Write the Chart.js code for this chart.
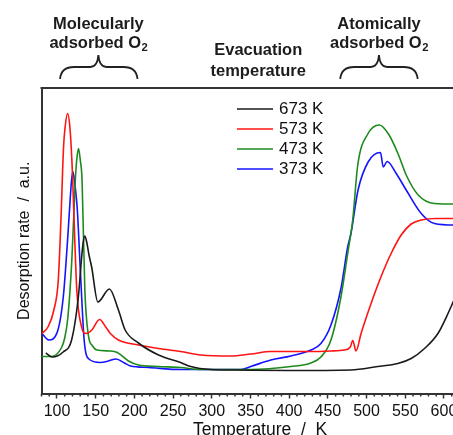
<!DOCTYPE html>
<html><head><meta charset="utf-8">
<script src="https://cdn.jsdelivr.net/npm/chart.js@4.4.0/dist/chart.umd.min.js"></script>
<style>
html,body{margin:0;padding:0;overflow:hidden;background:#fff;width:453px;height:435px}
#wrap{position:absolute;left:0;top:0;width:481px;height:448px}
</style>
</head><body><div id="wrap"><canvas id="c" width="481" height="448"></canvas></div>
<script>
// ---- data (temperature in K, desorption rate in a.u.) ----
const seriesLabels = ['673 K', '573 K', '473 K', '373 K'];
const seriesColors = ['#1a1a1a', '#ff1414', '#1e8a1e', '#1414ff'];

const temp673 = [85.5, 94, 108, 118.9, 127.6, 131.9, 133.8, 136, 138.5, 141.5, 144.8, 152.8, 167.7, 179.4, 188.1, 205.3, 231.2, 259.7, 272.7, 298.6, 330, 400, 480, 514.5, 540.4, 557.6, 574.9, 592.2, 605.2, 613.7, 620];
const rate673 = [40.5, 36.5, 41.5, 53.5, 96.5, 136.5, 151, 157.5, 151, 138, 126.5, 91.5, 104.5, 83.5, 63.5, 50.5, 38.5, 31, 27, 24, 23.5, 23, 23.5, 27, 30, 35, 45, 60, 80, 95, 108];

const temp573 = [80, 88.7, 96, 101.7, 105, 108.5, 110.6, 113.7, 116.8, 119.4, 125.6, 131.5, 137.6, 145, 155, 163, 169, 179.4, 205.3, 231.2, 259.7, 285.6, 324.5, 350.4, 376.3, 428.1, 454, 471.2, 479, 482.1, 486.4, 492.9, 505.8, 518.8, 531.7, 544.7, 557.6, 570.6, 590, 613.3, 620];
const rate573 = [59.5, 67, 83.5, 113.5, 171.5, 246.5, 267, 280, 265, 230.5, 103.5, 67.5, 60, 63.5, 74, 66.5, 60, 53.5, 48.5, 45, 42, 38.5, 37.5, 39.5, 42, 42, 42.5, 43.5, 46.5, 53, 42.5, 60, 90, 117, 140, 158.5, 169.5, 173.5, 175, 175, 175];

const temp473 = [80, 92.6, 105.6, 110, 114, 119.2, 123.7, 125.7, 127.8, 130, 132.4, 136, 140.5, 146, 151.6, 169, 178, 192.4, 205.3, 231.2, 259.7, 285.6, 350.4, 402.2, 428.1, 441, 454, 467, 475.6, 482.1, 488.6, 501.6, 516.6, 529.1, 540.8, 551.2, 566.7, 587.8, 613.3, 620];
const rate473 = [37, 37, 45.5, 55.5, 75.5, 133.5, 213.5, 235, 245, 234, 213.5, 103.5, 58.5, 47.5, 43.5, 42.5, 41, 32.5, 28.5, 27, 26, 24, 24, 27, 30.5, 36.5, 53.5, 97, 140, 173.5, 228.5, 259.5, 268.5, 258.5, 239.5, 218.5, 198.5, 190, 189.5, 190];

const temp373 = [80, 89.4, 100.4, 108.2, 113.7, 117, 118.8, 120.5, 122.3, 124.5, 126.3, 130.8, 135.1, 141.2, 156, 166.5, 176.2, 187.2, 195, 218.3, 259.7, 337.4, 350.4, 376.3, 402.2, 428.1, 441, 454, 467, 475.6, 479.9, 489, 502, 518, 521.5, 526.6, 538.3, 551.2, 570.6, 587.8, 613.3, 620];
const rate373 = [60.5, 53.5, 61.5, 97, 153.5, 193.5, 213, 222, 214, 200, 183.5, 113.5, 53.5, 34.5, 31, 32.5, 34.5, 30.5, 27.5, 26, 24, 24, 27, 33.5, 37.5, 43.5, 50, 68.5, 105.5, 146.5, 160.5, 203.5, 231.5, 241, 226.5, 232, 220, 203.5, 180, 170, 168.5, 168.5];

const xMajorTicks = [100, 150, 200, 250, 300, 350, 400, 450, 500, 550, 600];
const xTitle = 'Temperature  /  K';
const yTitle = 'Desorption rate  /  a.u.';

const FONT = "'Liberation Sans', Arial, Helvetica, sans-serif";

const temps = [temp673, temp573, temp473, temp373];
const rates = [rate673, rate573, rate473, rate373];

const datasets = seriesLabels.map((lab, i) => ({
  label: lab,
  data: temps[i].map((t, j) => ({ x: t, y: rates[i][j] })),
  borderColor: seriesColors[i],
  borderWidth: 1.6,
  pointRadius: 0,
  fill: false,
  cubicInterpolationMode: 'monotone'
}));

const minorTicks = [];
for (let v = 80; v <= 640; v += 10) if (!xMajorTicks.includes(v)) minorTicks.push(v);

const framePlugin = {
  id: 'frame',
  afterDraw(chart) {
    const { ctx, chartArea: { left, top, right, bottom }, scales: { x } } = chart;
    ctx.save();
    ctx.strokeStyle = '#333';
    ctx.lineWidth = 2;
    ctx.beginPath();
    ctx.moveTo(left - 1, top);
    ctx.lineTo(right, top);
    ctx.lineTo(right, bottom);
    ctx.stroke();
    ctx.lineWidth = 1.5;
    ctx.beginPath();
    for (const v of minorTicks) {
      const px = x.getPixelForValue(v);
      ctx.moveTo(px, bottom);
      ctx.lineTo(px, bottom + 3);
    }
    ctx.stroke();
    ctx.restore();
  }
};

const legendPlugin = {
  id: 'legendInside',
  afterDraw(chart) {
    const { ctx } = chart;
    ctx.save();
    ctx.font = '17px ' + FONT;
    ctx.textBaseline = 'middle';
    ctx.textAlign = 'left';
    chart.data.datasets.forEach((ds, i) => {
      const y = 109 + i * 20;
      ctx.strokeStyle = ds.borderColor;
      ctx.lineWidth = 1.6;
      ctx.beginPath();
      ctx.moveTo(237, y);
      ctx.lineTo(273, y);
      ctx.stroke();
      ctx.fillStyle = '#111';
      ctx.fillText(ds.label, 279, y + 0.5);
    });
    ctx.restore();
  }
};

function drawBrace(ctx, x1, x2, xc, yTip, yMid, yEnd) {
  ctx.beginPath();
  ctx.moveTo(x1, yEnd);
  ctx.quadraticCurveTo(x1 + 1, yMid, x1 + 14, yMid);
  ctx.lineTo(xc - 8, yMid);
  ctx.quadraticCurveTo(xc - 1, yMid, xc, yTip);
  ctx.moveTo(x2, yEnd);
  ctx.quadraticCurveTo(x2 - 1, yMid, x2 - 14, yMid);
  ctx.lineTo(xc + 8, yMid);
  ctx.quadraticCurveTo(xc + 1, yMid, xc, yTip);
  ctx.stroke();
}

function drawSubText(ctx, main, sub, cx, y, size) {
  ctx.font = 'bold ' + size + 'px ' + FONT;
  const w1 = ctx.measureText(main).width;
  ctx.font = 'bold ' + (size * 0.68) + 'px ' + FONT;
  const w2 = ctx.measureText(sub).width;
  const x0 = cx - (w1 + w2) / 2;
  ctx.textAlign = 'left';
  ctx.font = 'bold ' + size + 'px ' + FONT;
  ctx.fillText(main, x0, y);
  ctx.font = 'bold ' + (size * 0.68) + 'px ' + FONT;
  ctx.fillText(sub, x0 + w1 + 0.5, y + 4.5);
}

const annotPlugin = {
  id: 'annot',
  afterDraw(chart) {
    const { ctx, scales: { x } } = chart;
    const S = 16.5;
    ctx.save();
    ctx.fillStyle = '#1c1c1c';
    ctx.textBaseline = 'middle';
    ctx.textAlign = 'center';
    ctx.font = 'bold ' + S + 'px ' + FONT;
    const cMol = x.getPixelForValue(153.5);
    const cAt = x.getPixelForValue(516);
    const cEv = x.getPixelForValue(360);
    ctx.fillText('Molecularly', cMol, 24);
    drawSubText(ctx, 'adsorbed O', '2', cMol, 43, S);
    ctx.textAlign = 'center';
    ctx.font = 'bold ' + S + 'px ' + FONT;
    ctx.fillText('Atomically', cAt, 24);
    drawSubText(ctx, 'adsorbed O', '2', cAt, 43, S);
    ctx.textAlign = 'center';
    ctx.font = 'bold ' + S + 'px ' + FONT;
    ctx.fillText('Evacuation', cEv, 50);
    ctx.fillText('temperature', cEv, 71);
    ctx.strokeStyle = '#222';
    ctx.lineWidth = 1.8;
    drawBrace(ctx, x.getPixelForValue(104), x.getPixelForValue(204), cMol, 55, 67, 79);
    drawBrace(ctx, x.getPixelForValue(466), x.getPixelForValue(566), cAt, 55, 67, 79);
    ctx.restore();
  }
};

new Chart(document.getElementById('c'), {
  type: 'line',
  data: { datasets },
  options: {
    responsive: false,
    devicePixelRatio: 1,
    animation: false,
    layout: { padding: { top: 88, left: 0, right: 2.2, bottom: 0 } },
    plugins: { legend: { display: false }, tooltip: { enabled: false } },
    scales: {
      x: {
        type: 'linear',
        position: 'bottom',
        min: 80,
        max: 645,
        afterBuildTicks: s => { s.ticks = xMajorTicks.map(v => ({ value: v })); },
        afterFit: s => { s.height = 54.5; },
        ticks: { font: { size: 16, family: FONT }, color: '#111', padding: 3, maxRotation: 0, autoSkip: false },
        grid: { display: true, drawOnChartArea: false, drawTicks: true, tickLength: 5, tickColor: '#333', tickWidth: 1.5, color: '#333' },
        border: { display: true, color: '#333', width: 2 },
        title: { display: true, text: xTitle, color: '#111', font: { size: 17.5, family: FONT }, padding: { top: 0, bottom: 7.5 } }
      },
      y: {
        type: 'linear',
        min: 0,
        max: 305.5,
        afterFit: s => { s.width = 41.5; },
        ticks: { display: false },
        grid: { display: false },
        border: { display: true, color: '#333', width: 2 },
        title: { display: true, text: yTitle, color: '#111', font: { size: 16, family: FONT }, padding: { top: 15.4, bottom: 0 } }
      }
    }
  },
  plugins: [framePlugin, legendPlugin, annotPlugin]
});
</script>
</body></html>
